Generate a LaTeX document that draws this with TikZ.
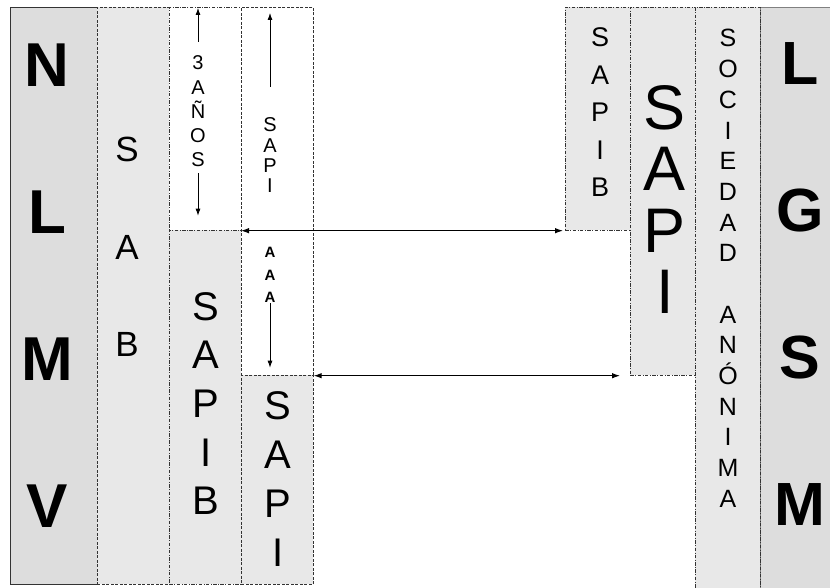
\documentclass[tikz,border=0pt]{standalone}
\usepackage{fontspec}
\setmainfont{Liberation Sans}
\usetikzlibrary{arrows.meta}

\begin{document}
\begin{tikzpicture}[x=1pt,y=-1pt,
    panel/.style={rectangle, anchor=north west, inner sep=0pt, fill=gray!18,
      draw=black!80, line width=0.7pt, dash pattern=on 3.5pt off 1.5pt on 0.8pt off 1.5pt},
    dpanel/.style={panel, dash pattern=on 3pt off 1.5pt},
    law/.style={rectangle, anchor=north west, inner sep=0pt, fill=gray!27, line width=0.8pt},
    letter/.style={anchor=base, inner sep=0pt},
    arr/.style={-{Latex[length=7pt,width=5pt]}, line width=0.8pt},
    darr/.style={{Latex[length=8pt,width=5.5pt]}-{Latex[length=8pt,width=5.5pt]}, line width=1pt}
  ]
  \useasboundingbox (0,0) rectangle (830,588);
  % columns
  \node[law, draw=black!80, minimum width=87pt, minimum height=577pt] (nlmv) at (10,7) {};
  \node[law, draw=black!50, minimum width=80pt, minimum height=600pt] (lgsm) at (760,7) {};
  \node[dpanel, minimum width=72pt, minimum height=577pt] (sab) at (97,7) {};
  \node[panel, fill=white, minimum width=72pt, minimum height=223pt] (aniosbox) at (169,7) {};
  \node[panel, minimum width=72pt, minimum height=354pt] (sapibm) at (169,230) {};
  \node[dpanel, fill=white, minimum width=72pt, minimum height=368pt] (sapiw) at (241,7) {};
  \node[dpanel, minimum width=72pt, minimum height=209pt] (sapim) at (241,375) {};
  \node[panel, minimum width=65pt, minimum height=223pt] (sapibr) at (565,7) {};
  \node[panel, minimum width=65pt, minimum height=368pt] (sapir) at (630,7) {};
  \node[panel, minimum width=65pt, minimum height=600pt] (sa) at (695,7) {};

  % letters
  \foreach \l [count=\i] in {N,L,M,V}
    \node[letter, font=\fontsize{62}{62}\selectfont\bfseries] (nlmv\i) at (47,{87+(\i-1)*146.7}) {\l};
  \foreach \l [count=\i] in {S,A,B}
    \node[letter, font=\fontsize{35}{35}\selectfont] (sab\i) at (127,{162+(\i-1)*97}) {\l};
  \foreach \l [count=\i] in {3,A,Ñ,O,S}
    \node[letter, font=\fontsize{20}{20}\selectfont] (anios\i) at (198,{70+(\i-1)*24.25}) {\l};
  \foreach \l [count=\i] in {S,A,P,I,B}
    \node[letter, font=\fontsize{40}{40}\selectfont] (sapibm\i) at (206,{320+(\i-1)*48.7}) {\l};
  \foreach \l [count=\i] in {S,A,P,I}
    \node[letter, font=\fontsize{20}{20}\selectfont] (sapiw\i) at (270,{132+(\i-1)*20.3}) {\l};
  \foreach \l [count=\i] in {A,A,A}
    \node[letter, font=\fontsize{15}{15}\selectfont\bfseries] (aaa\i) at (270,{258+(\i-1)*22}) {\l};
  \foreach \l [count=\i] in {S,A,P,I}
    \node[letter, font=\fontsize{40}{40}\selectfont] (sapim\i) at (278,{419+(\i-1)*49.3}) {\l};
  \foreach \l [count=\i] in {S,A,P,I,B}
    \node[letter, font=\fontsize{27}{27}\selectfont] (sapibr\i) at (600,{47+(\i-1)*37.5}) {\l};
  \foreach \l [count=\i] in {S,A,P,I}
    \node[letter, font=\fontsize{63}{63}\selectfont] (sapir\i) at (665,{130+(\i-1)*61}) {\l};
  \foreach \l [count=\i] in {S,O,C,I,E,D,A,D,{},A,N,Ó,N,I,M,A}
    \node[letter, font=\fontsize{25}{25}\selectfont] (sa\i) at (728,{47+(\i-1)*30.67}) {\l};
  \foreach \l [count=\i] in {L,G,S,M}
    \node[letter, font=\fontsize{61}{61}\selectfont\bfseries] (lgsm\i) at (800,{85+(\i-1)*146.7}) {\l};

  % arrows
  \draw[arr, shorten <=14pt, shorten >=1pt] (anios1.north) -- (anios1.north |- aniosbox.north);
  \draw[arr, shorten <=6pt, shorten >=15pt] (anios5.south) -- (anios5.south |- aniosbox.south);
  \draw[arr, shorten <=31pt, shorten >=6pt] (sapiw1.north) -- (sapiw1.north |- sapiw.north);
  \draw[arr, shorten <=1pt, shorten >=8pt] (aaa3.south) -- (aaa3.south |- sapiw.south);
  \draw[darr, shorten >=2pt] (sapiw.west |- aniosbox.south) -- (sapibr.south west);
  \draw[darr, shorten >=10pt] (sapiw.south east) -- (sapir.south west);
\end{tikzpicture}
\end{document}
